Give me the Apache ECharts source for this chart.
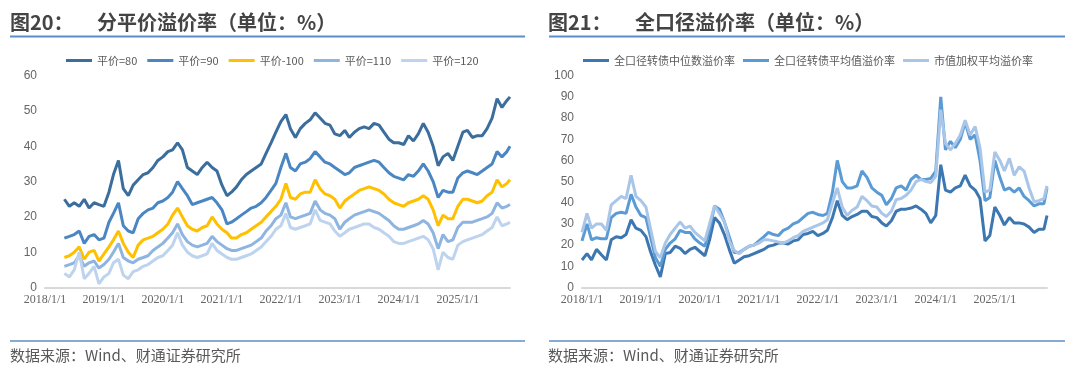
<!DOCTYPE html>
<html><head><meta charset="utf-8">
<script src="https://cdn.jsdelivr.net/npm/echarts@6/dist/echarts.min.js"></script>
<style>html,body{margin:0;padding:0;background:#fff}#c{width:1080px;height:383px}</style>
</head><body><div id="c"></div>
<script>
// ---------- data ----------
// Left chart: monthly points from 2018-05 to 2025-11, plus last day 2025-11-20
const leftNames = ['平价=80', '平价=90', '平价-100', '平价=110', '平价=120'];
const p80 = [25,23,24,23,25,22.5,24,23.5,23,27, 32,36,28,26,29,30.5,32,32.5,34,36, 37,38.5,39,41,39,34,33,32,34,35.5, 34,33,29,26,27,28.5,30.5,32,33,34, 35,38,41,44,47,49,45,42.5,45,46.5, 47.5,49.5,48,46.5,46,43.5,43,44.5,42.5,44, 45,45.5,45,46.5,46,44,42,41,41,40.5, 43,41.5,43.5,46.5,44,40,34.5,37,38,36, 40,44,44.5,42.5,43,43,45,48,53.5,51, 53,54];
const p90 = [14,14.5,15,16,12.5,14.5,15,13.5,14,18.5, 21,24,17.5,16,15.5,19.5,21,22,22.5,24, 24.5,25.5,27,30,28,26,23.5,24,24.5,25, 25.5,24,22,18,18.5,19.5,20.5,21.5,22.5,23, 24,25.5,27.5,29.5,34,38,34,33,35,35.5, 36.5,38.5,37,35.5,35,34,33,32,32.5,34, 34.5,35,35.5,36,35.5,34,32.5,31.5,31,30.5, 32,31.5,33,35,33,30,25.5,27.5,27,27, 31,32.5,33,32.5,32,33,34,35,38.5,37, 38.5,40];
const p100 = [8.5,9,10,11.5,8,10,10.5,7.5,9.5,11.5, 13.5,16,12.5,10,8.5,12,13.5,14,14.5,15.5, 16.5,18,20.5,22.5,20,17.5,16.5,16,17,17.5, 20,18,16.5,15.5,14,14,15,15.5,16.5,17.5, 18.5,20,21.5,23,25,29.5,25.5,25,26.5,27, 27,30.5,28,26.5,26,25,22.5,24.5,25.5,26.5, 27.5,28,28.5,28,27.5,26.5,25,24,23.5,23, 24,24.5,25,26,25,22,17.5,20.5,19.5,19.5, 23,25,25,24.5,24,24.5,26,27,30.5,28.5, 29.5,30.5];
const p110 = [6,6.5,7,9,6,7,7.5,5.5,6.5,8, 10,12.5,8.5,7.5,7,8,8.5,9,10.5,11.5, 12.5,14,15.5,18,15,13,12,11.5,12,12.5, 14.5,13,12,11,10.5,10.5,11,11.5,12,13, 14,16,17.5,19.5,20.5,24,20,19.5,20,20.5, 21,24.5,22,21,20.5,19.5,16.5,18.5,19.5,20.5, 21,21.5,22,21.5,21,20,19,17.5,16.5,16.5, 17,17.5,18,19,18,15.5,11,15,13,13.5, 17,18.5,18.5,18.5,19,19.5,20,21,24,22.5, 23,23.5];
const p120 = [4,3,5,10,2.5,4,6,1,3,4, 7,8,3.5,2.5,4.5,5,6,6.5,7.5,8.5, 9,10.5,12,15.5,12,10,9,8.5,9,9.5, 12.5,10.5,9.5,8.5,8,8,8.5,9,9.5,10.5, 11.5,13,14.5,16.5,17.5,21,17,16.5,17,17.5, 18,22,19,18.5,18,16,14.5,15.5,16.5,17, 17.5,18,18,17,16.5,15.5,14.5,13,12.5,12.5, 13,13.5,14,14.5,13.5,11,5,10,8.5,8, 12,13,13.5,14,14.5,15,16,17,20,17.5, 18,18.5];

// Right chart: monthly points from 2018-01 to 2025-11, plus last day 2025-11-20
const rightNames = ['全口径转债中位数溢价率', '全口径转债平均值溢价率', '市值加权平均溢价率'];
const medianPrem = [13,16,13,18,15.5,13,22.5,24,23.5,25, 32,28,27,24,17,10.5,5,16,16.5,19.5, 18.5,16,18,19,17,15,22.5,33,30.5,25, 18,11.5,13,14.5,15,16,17,18,19.5,20, 21,21,20.5,22,22.5,25,25.5,26.5,
  24.5,25.5,27,33,41,34,32,33.5,34.5,36, 36,33.5,33,30.5,29,31.5,36,37,37,37.5, 38.5,37,35,30.5,34,58,46,45,47,48, 53,48,46,42,22,24.5,38,34,29.5,33, 30.5,30.5,30,28.5,26,27.5,27.5,34];
const meanPrem = [22,30,22.5,23.5,23,23,33,35,35.5,35, 44,38,34,33,24,14,10,18,21,23, 27,26,26,23,21,19.5,27,38.5,37,31, 24,16.5,16.5,18,19.5,20,22,24,26,25, 24.5,27,28,30,31,33,35,35.5,
  34.5,34,35,45,60,50,47,47,48,55, 52,47,45,43.5,39,42,47,48,46,51, 53,51,51,51.5,55,90,65,69,66,70, 78,70,72,60,41,42.5,60,52,46,47, 45,47,43,41,38.5,39.5,39.5,47];
const weightedPrem = [26,35,28,30,30,27,39,41,43,42, 53,43,41,38,28,17,14,21,25,28, 31,28,29,26,24,22,30,38.5,35,31, 22,17.5,16,18,19.5,20,21,22.5,22.5,22, 21.5,21,22,23.5,24.5,26.5,27.5,28.5,
  29.5,30.5,32,40,47,38,34,36.5,38,43, 41,38.5,38,35,33.5,36,41.5,42,43.5,46, 50,51,50,49.5,52.5,84,68,65,68,72, 79,72,76,66,45,46,64,60,55,61, 53,57,55,47,40.5,41,42,48];

// ---------- dates ----------
function monthDates(y, m, n, lastDay) {
  const out = [];
  for (let k = 0; k < n; k++) {
    const mm = m - 1 + k;
    const yy = y + Math.floor(mm / 12);
    const mo = (mm % 12) + 1;
    out.push(yy + '-' + String(mo).padStart(2, '0') + '-01');
  }
  out.push(lastDay);
  return out;
}
const leftDates = monthDates(2018, 5, p80.length - 1, '2025-11-20');
const rightDates = monthDates(2018, 1, medianPrem.length - 1, '2025-11-20');

const leftSeries = [p80, p90, p100, p110, p120];
const rightSeries = [medianPrem, meanPrem, weightedPrem];
const leftColors = ['#3b6d9d', '#4a86c1', '#ffc000', '#8eb4e0', '#bed3ee'];
const rightColors = ['#3d77b1', '#5b9bd5', '#a9c6e8'];

// ---------- chart ----------
const chart = echarts.init(document.getElementById('c'), null, {renderer: 'canvas'});
const YEAR = 365 * 86400000;
const grey = '#595959';
function xAxisCfg(gi) {
  return {
    type: 'time', gridIndex: gi, min: '2018-01-01', max: '2025-11-20',
    minInterval: YEAR, maxInterval: YEAR,
    axisLine: {show: true, lineStyle: {color: '#d9d9d9', width: 2}},
    axisTick: {show: false}, splitLine: {show: false},
    axisLabel: {
      color: '#666', fontSize: 12, fontFamily: 'Liberation Serif', margin: 6,
      showMaxLabel: false, hideOverlap: false,
      formatter: function (v) { const d = new Date(v); return d.getFullYear() + '/' + (d.getMonth() + 1) + '/' + d.getDate(); }
    }
  };
}
function yAxisCfg(gi, max) {
  return {
    type: 'value', gridIndex: gi, min: 0, max: max, interval: 10,
    axisLine: {show: false}, axisTick: {show: false}, splitLine: {show: false},
    axisLabel: {color: '#666', fontSize: 12, fontFamily: 'Liberation Sans', margin: 8}
  };
}
const series = [];
leftSeries.forEach((arr, k) => series.push({
  name: leftNames[k], type: 'line', xAxisIndex: 0, yAxisIndex: 0, showSymbol: false,
  color: leftColors[k], lineStyle: {width: 3, color: leftColors[k]},
  data: arr.map((v, i) => [leftDates[i], v])
}));
rightSeries.forEach((arr, k) => series.push({
  name: rightNames[k], type: 'line', xAxisIndex: 1, yAxisIndex: 1, showSymbol: false,
  color: rightColors[k], lineStyle: {width: 3, color: rightColors[k]},
  data: arr.map((v, i) => [rightDates[i], v])
}));

const titleFont = {fontSize: 20, fontWeight: 'bold', fill: '#444', fontFamily: 'Noto Sans CJK SC'};
const footFont = {fontSize: 15, fill: '#595959', fontFamily: 'Noto Sans CJK SC'};
chart.setOption({
  animation: false,
  backgroundColor: '#fff',
  grid: [
    {left: 45, top: 75.7, width: 465, height: 211.8},
    {left: 582, top: 75.7, width: 465, height: 211.8}
  ],
  legend: [
    {data: leftNames, left: 66, top: 55, padding: 0, icon: 'rect', itemWidth: 26, itemHeight: 3, itemGap: 10,
     textStyle: {color: grey, fontSize: 11, fontFamily: 'Noto Sans CJK SC'}},
    {data: rightNames, left: 583, top: 55, padding: 0, icon: 'rect', itemWidth: 26, itemHeight: 3, itemGap: 8,
     textStyle: {color: grey, fontSize: 11, fontFamily: 'Noto Sans CJK SC'}}
  ],
  xAxis: [xAxisCfg(0), xAxisCfg(1)],
  yAxis: [yAxisCfg(0, 60), yAxisCfg(1, 100)],
  series: series,
  graphic: [
    {type: 'text', left: 10, top: 12, style: Object.assign({text: '图20：'}, titleFont)},
    {type: 'text', left: 97, top: 12, style: Object.assign({text: '分平价溢价率（单位：%）'}, titleFont)},
    {type: 'text', left: 548, top: 12, style: Object.assign({text: '图21：'}, titleFont)},
    {type: 'text', left: 635, top: 12, style: Object.assign({text: '全口径溢价率（单位：%）'}, titleFont)},
    {type: 'line', shape: {x1: 10, y1: 36.5, x2: 525, y2: 36.5}, style: {stroke: '#5b8ec8', lineWidth: 2}},
    {type: 'line', shape: {x1: 549, y1: 36.5, x2: 1065, y2: 36.5}, style: {stroke: '#5b8ec8', lineWidth: 2}},
    {type: 'line', shape: {x1: 10, y1: 341, x2: 525, y2: 341}, style: {stroke: '#86acd6', lineWidth: 2}},
    {type: 'line', shape: {x1: 549, y1: 341, x2: 1065, y2: 341}, style: {stroke: '#86acd6', lineWidth: 2}},
    {type: 'text', left: 10, top: 348, style: Object.assign({text: '数据来源：Wind、财通证券研究所'}, footFont)},
    {type: 'text', left: 548, top: 348, style: Object.assign({text: '数据来源：Wind、财通证券研究所'}, footFont)}
  ]
});
</script>
</body></html>
